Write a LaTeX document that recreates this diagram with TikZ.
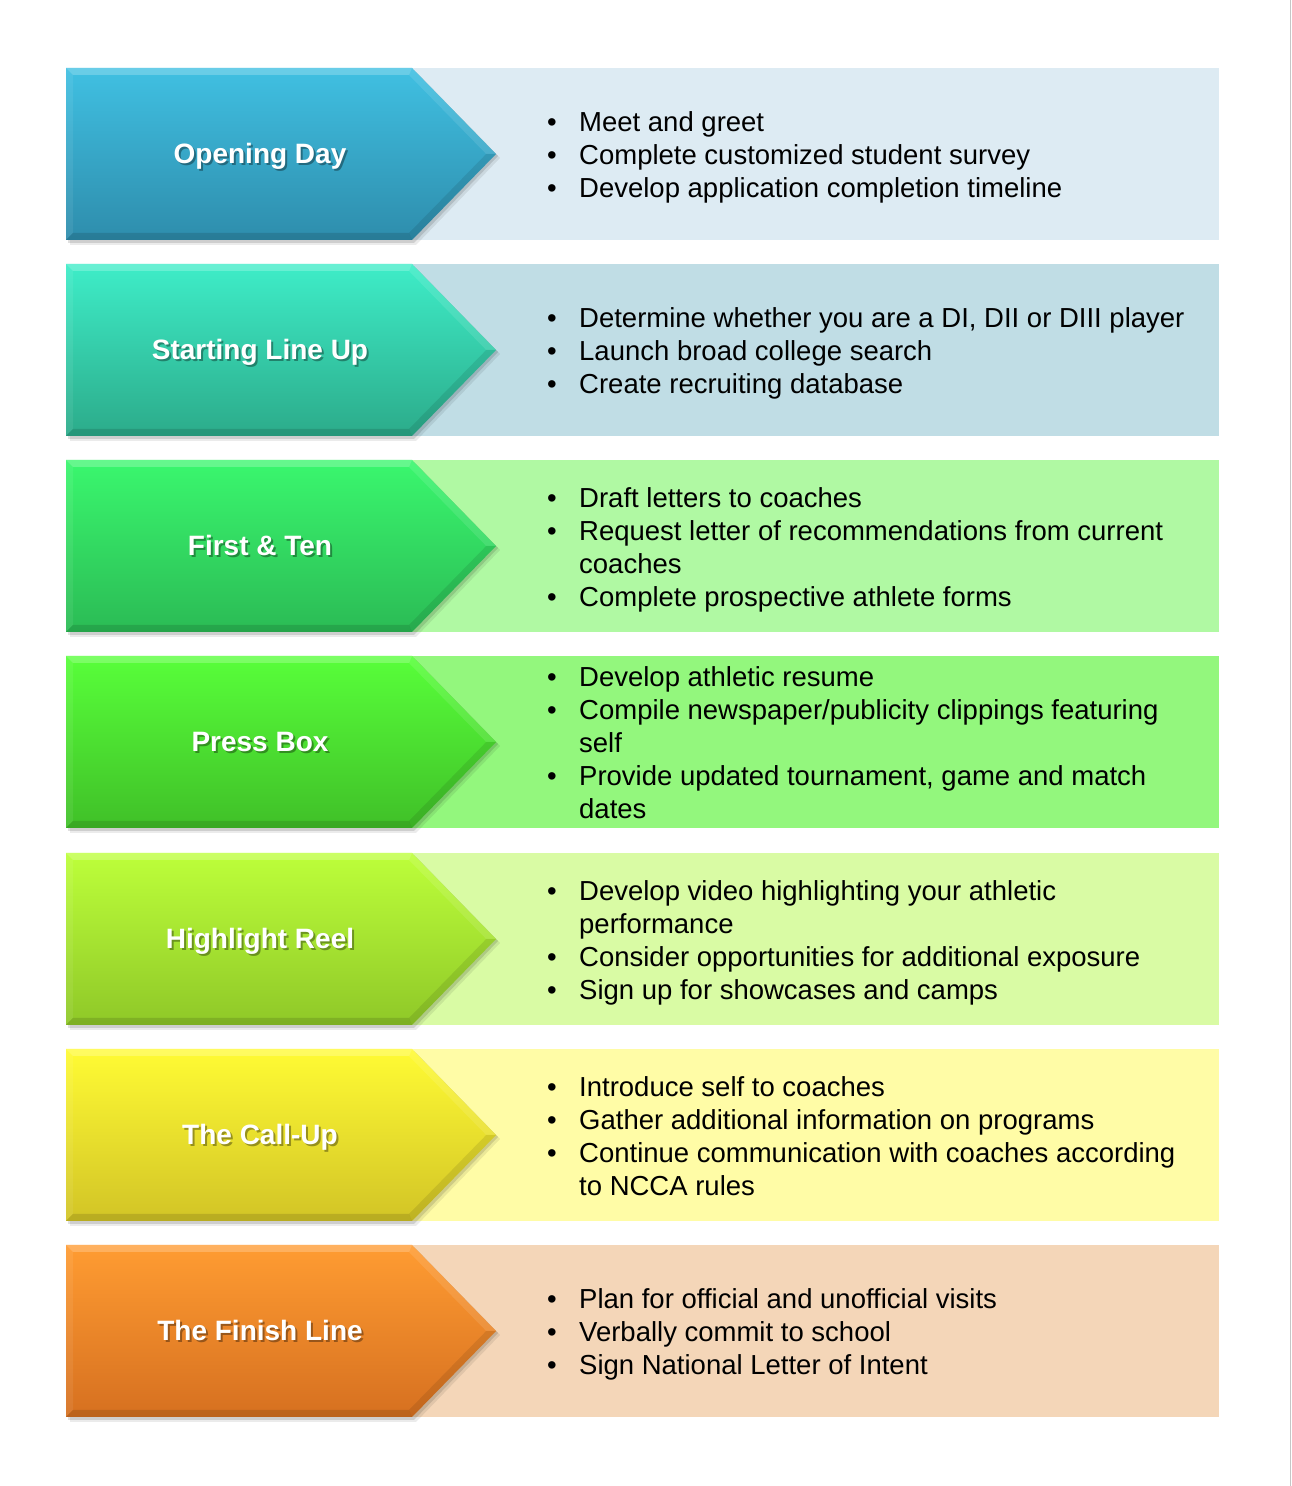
\documentclass[tikz,border=0pt]{standalone}
\usepackage{fontspec}
\setmainfont{Liberation Sans}
\newcommand\itemfont{\fontsize{27.5}{33}\selectfont}
\newcommand\lblfont{\fontsize{28}{33}\selectfont\bfseries}
\definecolor{aT}{HTML}{40C0E2}\definecolor{aB}{HTML}{2E8DAC}\definecolor{aG}{HTML}{DDEBF3}
\definecolor{bT}{HTML}{3EEDC8}\definecolor{bB}{HTML}{2CAB8A}\definecolor{bG}{HTML}{C0DDE5}
\definecolor{cT}{HTML}{3AF76E}\definecolor{cB}{HTML}{2BBB55}\definecolor{cG}{HTML}{B0F9A3}
\definecolor{dT}{HTML}{58FF3A}\definecolor{dB}{HTML}{40C028}\definecolor{dG}{HTML}{93F77D}
\definecolor{eT}{HTML}{BDFF3A}\definecolor{eB}{HTML}{8FC828}\definecolor{eG}{HTML}{D9FBA4}
\definecolor{fT}{HTML}{FFFB34}\definecolor{fB}{HTML}{D2C426}\definecolor{fG}{HTML}{FFFCA6}
\definecolor{gT}{HTML}{FF9C32}\definecolor{gB}{HTML}{D67020}\definecolor{gG}{HTML}{F4D6B8}
\tikzset{
  lbl/.style={anchor=base, inner sep=0pt, text=white, font=\lblfont},
  lblshadow/.style={anchor=base, inner sep=0pt, text=black, text opacity=0.35, font=\lblfont},
  itm/.style={anchor=base west, inner sep=0pt, font=\itemfont},
  bul/.style={anchor=base, inner sep=0pt, font=\itemfont},
}
\newcommand\steprow[6]{%
  \pgfmathsetmacro\rT{1486-#2}%
  \pgfmathsetmacro\rB{\rT-172}%
  \pgfmathsetmacro\rC{\rT-86}%
  \pgfmathsetmacro\rTi{\rT-7}%
  \pgfmathsetmacro\rBi{\rB+7}%
  \fill[#5] (412,\rT) rectangle (1219,\rB);
  \fill[black,opacity=0.08] (70,{\rT-4}) -- (416,{\rT-4}) -- (500,{\rC-4}) -- (416,{\rB-5}) -- (70,{\rB-5}) -- cycle;
  \fill[black,opacity=0.12] (68,{\rT-2}) -- (414,{\rT-2}) -- (498,{\rC-2}) -- (414,{\rB-3}) -- (68,{\rB-3}) -- cycle;
  \shade[top color=#3,bottom color=#4] (66,\rT) -- (412,\rT) -- (496,\rC) -- (412,\rB) -- (66,\rB) -- cycle;
  \fill[white,opacity=0.22] (66,\rT) -- (412,\rT) -- (409,\rTi) -- (73,\rTi) -- cycle;
  \fill[white,opacity=0.07] (66,\rB) -- (66,\rT) -- (73,\rTi) -- (73,\rBi) -- cycle;
  \fill[white,opacity=0.1] (412,\rT) -- (496,\rC) -- (486.2,\rC) -- (409,\rTi) -- cycle;
  \fill[black,opacity=0.09] (496,\rC) -- (412,\rB) -- (409,\rBi) -- (486.2,\rC) -- cycle;
  \fill[black,opacity=0.12] (412,\rB) -- (66,\rB) -- (73,\rBi) -- (409,\rBi) -- cycle;
  \node[lblshadow] (#1s) at (262,{\rC-12}) {#6};
  \node[lbl] (#1) at (260,{\rC-10}) {#6};
}
\newcommand\bitem[3]{\node[bul] (#1b) at (552,{#2-1}) {•}; \node[itm] (#1) at (579,{#2-1}) {#3};}
\newcommand\citem[3]{\node[itm] (#1) at (579,{#2-1}) {#3};}
\begin{document}
\begin{tikzpicture}[x=1pt,y=1pt]
\useasboundingbox (0,0) rectangle (1292,1486);
\fill[white] (0,0) rectangle (1292,1486);
\draw[gray!45, line width=1pt] (1290.5,0) -- (1290.5,1486);

\steprow{s1}{68}{aT}{aB}{aG}{Opening Day}
\bitem{a1}{1355}{Meet and greet}
\bitem{a2}{1322}{Complete customized student survey}
\bitem{a3}{1289}{Develop application completion timeline}

\steprow{s2}{264}{bT}{bB}{bG}{Starting Line Up}
\bitem{b1}{1159}{Determine whether you are a DI, DII or DIII player}
\bitem{b2}{1126}{Launch broad college search}
\bitem{b3}{1093}{Create recruiting database}

\steprow{s3}{460}{cT}{cB}{cG}{First \& Ten}
\bitem{c1}{979.5}{Draft letters to coaches}
\bitem{c2}{946.5}{Request letter of recommendations from current}
\citem{c2x}{913.5}{coaches}
\bitem{c3}{880.5}{Complete prospective athlete forms}

\steprow{s4}{656}{dT}{dB}{dG}{Press Box}
\bitem{d1}{800}{Develop athletic resume}
\bitem{d2}{767}{Compile newspaper/publicity clippings featuring}
\citem{d2x}{734}{self}
\bitem{d3}{701}{Provide updated tournament, game and match}
\citem{d3x}{668}{dates}

\steprow{s5}{853}{eT}{eB}{eG}{Highlight Reel}
\bitem{e1}{586.5}{Develop video highlighting your athletic}
\citem{e1x}{553.5}{performance}
\bitem{e2}{520.5}{Consider opportunities for additional exposure}
\bitem{e3}{487.5}{Sign up for showcases and camps}

\steprow{s6}{1049}{fT}{fB}{fG}{The Call-Up}
\bitem{f1}{390.5}{Introduce self to coaches}
\bitem{f2}{357.5}{Gather additional information on programs}
\bitem{f3}{324.5}{Continue communication with coaches according}
\citem{f3x}{291.5}{to NCCA rules}

\steprow{s7}{1245}{gT}{gB}{gG}{The Finish Line}
\bitem{g1}{178}{Plan for official and unofficial visits}
\bitem{g2}{145}{Verbally commit to school}
\bitem{g3}{112}{Sign National Letter of Intent}
\end{tikzpicture}
\end{document}
